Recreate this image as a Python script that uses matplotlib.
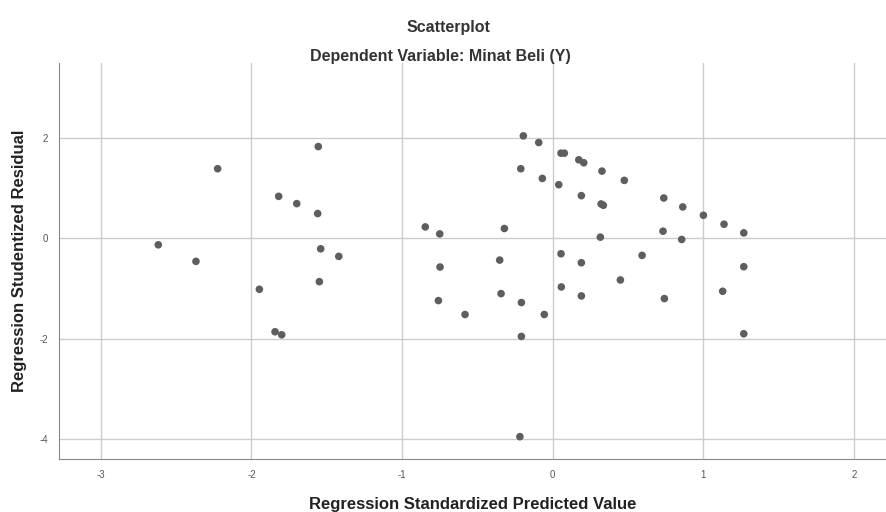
import matplotlib
matplotlib.use("Agg")
from matplotlib import pyplot as plt

plt.rcParams["font.family"] = ["Liberation Sans", "DejaVu Sans"]
plt.rcParams["axes.unicode_minus"] = False

# standardized predicted value (x) and studentized residual (y)
pred = [-1.556, -2.224, -1.819, -1.699, -1.560, -2.618, -2.368, -1.540, -1.420,
        -1.549, -1.947, -1.843, -1.799,
        -0.195, -0.093, 0.055, 0.077, 0.173, 0.206, -0.212, 0.327, -0.069, 0.040,
        0.475, 0.190, 0.321, 0.336, -0.846, -0.750, -0.321, 0.316, 0.055, 0.190,
        0.593, -0.748, -0.352, 0.449, 0.057, 0.190, -0.759, -0.343, -0.208,
        -0.582, -0.056, -0.208,
        0.737, 0.863, 1.000, 1.137, 1.268, 0.732, 0.856, 1.268, 1.128, 0.741,
        1.268, -0.218]
resid = [1.825, 1.383, 0.833, 0.688, 0.490, -0.133, -0.462, -0.212, -0.363,
         -0.867, -1.018, -1.865, -1.925,
         2.038, 1.905, 1.693, 1.693, 1.561, 1.502, 1.383, 1.336, 1.190, 1.065,
         1.151, 0.847, 0.681, 0.655, 0.224, 0.085, 0.192, 0.020, -0.311, -0.490,
         -0.343, -0.575, -0.437, -0.833, -0.972, -1.151, -1.244, -1.105, -1.283,
         -1.521, -1.521, -1.958,
         0.800, 0.622, 0.456, 0.278, 0.105, 0.139, -0.026, -0.569, -1.058, -1.204,
         -1.905, -3.955]

xticks = [-3, -2, -1, 0, 1, 2]
yticks = [-4, -2, 0, 2]

fig = plt.figure(figsize=(8.86, 5.12), dpi=100)
ax = fig.add_axes([0.0666, 0.1035, 0.9334, 0.7735])

ax.scatter(pred, resid, s=30, color="#5e5e5e", edgecolors="none", zorder=3)

ax.set_xlim(-3.277, 2.212)
ax.set_ylim(-4.40, 3.49)
ax.set_xticks(xticks)
ax.set_yticks(yticks)
ax.tick_params(length=0, labelsize=7, labelcolor="#555555", pad=8)
ax.grid(True, color="#cccccc", linewidth=1)
ax.set_axisbelow(True)
for side in ["top", "right"]:
    ax.spines[side].set_visible(False)
for side in ["left", "bottom"]:
    ax.spines[side].set_color("#888888")

ax.set_xlabel("Regression Standardized Predicted Value", fontsize=12,
              fontweight="bold", color="#222222", labelpad=12)
ax.set_ylabel("Regression Studentized Residual", fontsize=12,
              fontweight="bold", color="#222222", labelpad=9)

fig.text(0.506, 0.946, "Scatterplot", ha="center", va="center",
         fontsize=11.5, fontweight="bold", color="#333333")
fig.text(0.497, 0.889, "Dependent Variable: Minat Beli (Y)", ha="center",
         va="center", fontsize=11.5, fontweight="bold", color="#333333")

fig.savefig("out.png", dpi=100)
